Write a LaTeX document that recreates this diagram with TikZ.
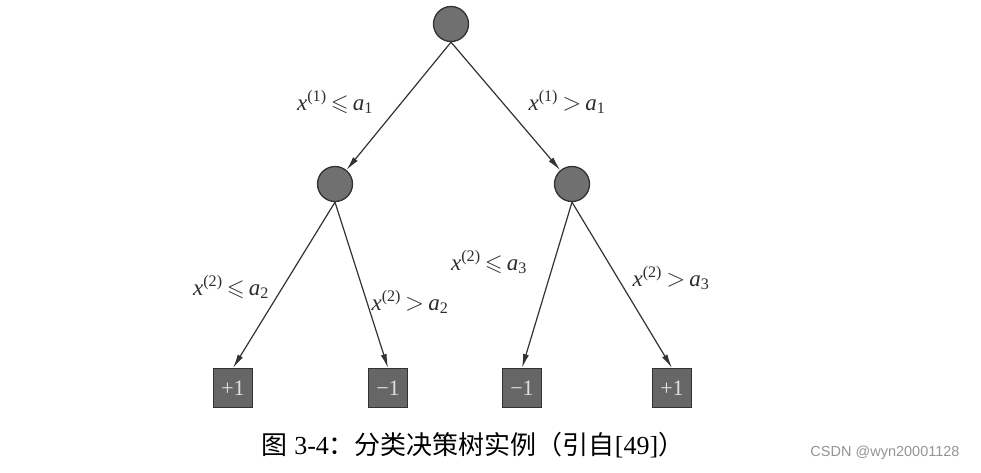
\documentclass[tikz,border=0pt]{standalone}
\usepackage{fontspec}
\setmainfont{Liberation Serif}
\newfontfamily\cjk{Noto Sans CJK SC}
\newfontfamily\wmfont{Liberation Sans}
\usepackage{amsmath,amssymb}
\usepackage{tikz}
\usetikzlibrary{arrows.meta,positioning}
\definecolor{nodegray}{RGB}{112,112,112}
\definecolor{leafgray}{RGB}{102,102,102}
\definecolor{edgegray}{RGB}{50,50,50}
\definecolor{textgray}{RGB}{45,45,45}
\newcommand{\feat}[1]{\textit{x}^{\text{(#1)}}}
\newcommand{\thr}[1]{\textit{a}_{\text{#1}}}

\begin{document}
\begin{tikzpicture}[x=1pt, y=-1pt, node distance=160pt and 116pt, on grid,
  split/.style={circle, draw=edgegray, line width=1.3pt, fill=nodegray, minimum size=35pt, inner sep=0pt},
  leaf/.style={rectangle, draw=edgegray, line width=1pt, fill=leafgray, minimum size=39pt, inner sep=0pt, text=white!88!black, font=\fontsize{22}{24}\selectfont},
  cond/.style={text=textgray, font=\fontsize{23}{26}\selectfont},
  branch/.style={draw=edgegray, line width=1.2pt, -{Latex[length=14pt,width=6pt]}}]
  \useasboundingbox (0,0) rectangle (981,472);
  % tree nodes
  \node[split] (root) at (451,24) {};
  \node[split, below left=160pt and 116pt of root] (n1) {};
  \node[split, below right=160pt and 121pt of root] (n2) {};
  \node[leaf, below left=204pt and 102pt of n1] (l1) {+1};
  \node[leaf, below right=204pt and 53pt of n1] (l2) {\textminus1};
  \node[leaf, below left=204pt and 50pt of n2] (l3) {\textminus1};
  \node[leaf, below right=204pt and 100pt of n2] (l4) {+1};
  % branches
  \draw[branch] (root.south) -- (n1);
  \draw[branch] (root.south) -- (n2);
  \draw[branch] (n1.south) -- (l1.north);
  \draw[branch] (n1.south) -- (l2.north);
  \draw[branch] (n2.south) -- (l3.north);
  \draw[branch] (n2.south) -- (l4.north);
  % split conditions
  \node[cond] (c1) at (335,102) {$\feat{1}\,{\leqslant}\,\thr{1}$};
  \node[cond] (c2) at (567,102) {$\feat{1}\,{>}\,\thr{1}$};
  \node[cond] (c3) at (231,287) {$\feat{2}\,{\leqslant}\,\thr{2}$};
  \node[cond] (c4) at (410,302) {$\feat{2}\,{>}\,\thr{2}$};
  \node[cond] (c5) at (489,262) {$\feat{2}\,{\leqslant}\,\thr{3}$};
  \node[cond] (c6) at (671,278) {$\feat{2}\,{>}\,\thr{3}$};
  % caption and mark
  \node[font=\fontsize{26}{28}\selectfont] (cap) at (473,445) {{\cjk 图} 3-4{\cjk ：分类决策树实例（引自}[49]{\cjk ）}};
  \node[text=black!42, font=\wmfont\fontsize{14.5}{16}\selectfont] (mark) at (885,453) {CSDN @wyn20001128};
\end{tikzpicture}
\end{document}
